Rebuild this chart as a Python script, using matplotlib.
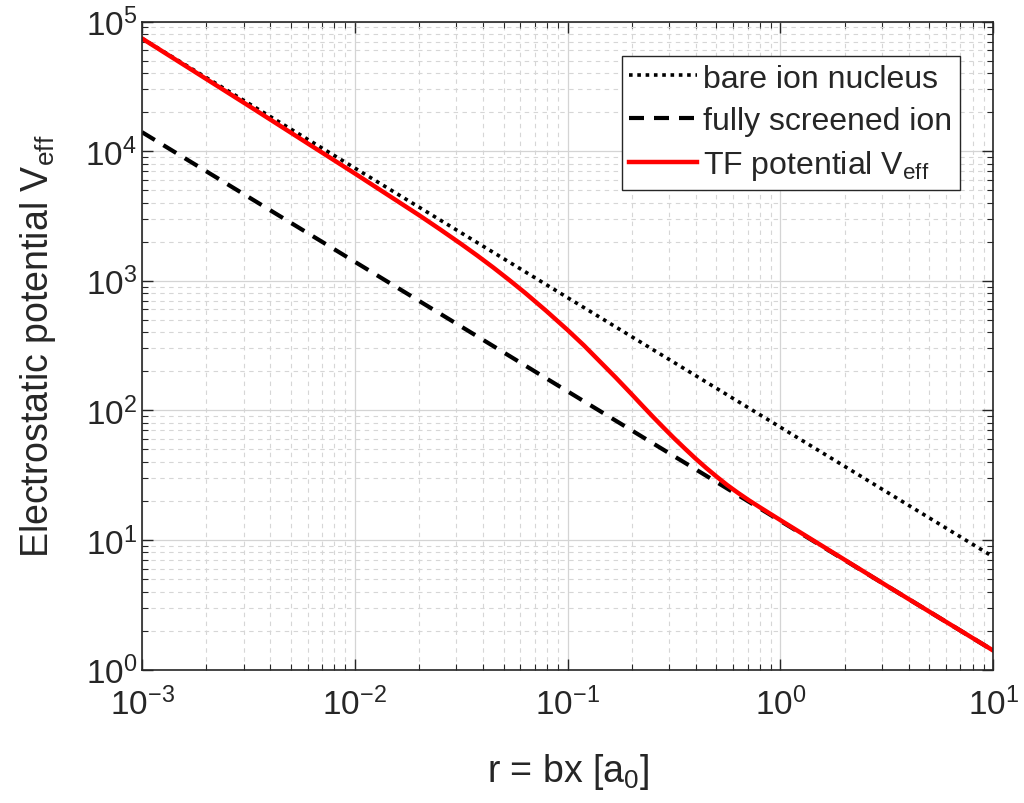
import matplotlib
matplotlib.use("Agg")
import matplotlib.pyplot as plt
from matplotlib.ticker import LogLocator, NullFormatter

plt.rcParams['font.family'] = ['Liberation Sans', 'DejaVu Sans']
plt.rcParams['mathtext.default'] = 'regular'

# bare nucleus and fully screened ion (straight lines on log-log)
r_line = [1e-3, 10.0]
v_bare = [7.4e4, 7.4]
v_screened = [1.4e4, 1.4]

# Thomas-Fermi effective potential
r_tf = [1e-3, 3.16e-3, 0.01, 0.02, 0.0251, 0.0316, 0.0376, 0.0447, 0.0531,
        0.0631, 0.0794, 0.1, 0.119, 0.141, 0.168, 0.2, 0.224, 0.251, 0.282,
        0.316, 0.355, 0.398, 0.447, 0.501, 0.562, 0.631, 0.708, 0.794, 1.0,
        3.16, 10.0]
v_tf = [7.4e4, 2.246e4, 6720, 3210, 2496, 1920, 1564, 1265, 1014,
        806, 584, 416, 318, 240, 179.5, 133, 109, 89.5, 73.6,
        61.0, 50.8, 42.6, 36.0, 30.8, 26.5, 23.1, 20.3, 18.0, 14.2,
        4.43, 1.40]

fig = plt.figure(figsize=(10.24, 8.04), dpi=100)
ax = fig.add_axes([0.1387, 0.166, 0.8313, 0.806])

ax.plot(r_line, v_bare, color='black', lw=2.6, linestyle=(0, (1, 1.3)),
        label='bare ion nucleus')
ax.plot(r_line, v_screened, color='black', lw=3, linestyle=(0, (3.6, 2.4)),
        label='fully screened ion')
ax.plot(r_tf, v_tf, color='#ff0000', lw=3.2, label='TF potential V$_{eff}$')

ax.set_xscale('log')
ax.set_yscale('log')
ax.set_xlim(1e-3, 10)
ax.set_ylim(1, 1e5)

ax.xaxis.set_major_locator(LogLocator(base=10, numticks=10))
ax.yaxis.set_major_locator(LogLocator(base=10, numticks=10))
ax.xaxis.set_minor_locator(LogLocator(base=10, subs=range(2, 10), numticks=20))
ax.yaxis.set_minor_locator(LogLocator(base=10, subs=range(2, 10), numticks=20))
ax.xaxis.set_minor_formatter(NullFormatter())
ax.yaxis.set_minor_formatter(NullFormatter())

ax.grid(which='major', color='#d4d4d4', lw=0.9, linestyle='-')
ax.grid(which='minor', color='#d6d6d6', lw=0.8, linestyle=(0, (4, 4)))
ax.set_axisbelow(True)

ax.tick_params(which='both', direction='in', top=True, right=True,
               colors='#262626', labelsize=24)
ax.tick_params(which='major', length=8, width=1)
ax.tick_params(which='minor', length=4, width=0.8)
ax.tick_params(axis='x', pad=12)
for s in ax.spines.values():
    s.set_color('#262626')
    s.set_linewidth(1.2)

ax.set_xlabel('r = bx [a$_0$]', fontsize=27, color='#262626', labelpad=22)
ax.set_ylabel('Electrostatic potential V$_{eff}$', fontsize=27, color='#262626',
              labelpad=20)

leg = ax.legend(loc='upper right', bbox_to_anchor=(0.961, 0.9474),
                borderaxespad=0, fontsize=23, fancybox=False, framealpha=1,
                edgecolor='#262626', handlelength=2.1, handletextpad=0.2,
                labelspacing=0.38, borderpad=0.25)
leg.get_frame().set_linewidth(1.0)
for t in leg.get_texts():
    t.set_color('#262626')

fig.savefig('out.png', dpi=100)
